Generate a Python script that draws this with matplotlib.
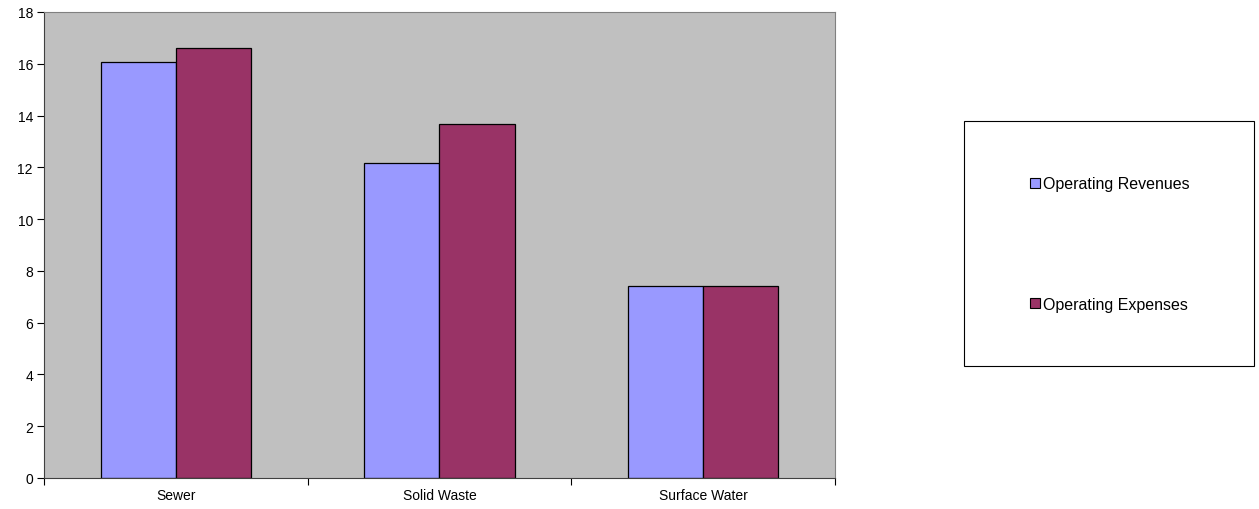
import numpy as np
import matplotlib.pyplot as plt
from matplotlib.patches import Patch, Rectangle

categories = ["Sewer", "Solid Waste", "Surface Water"]
revenues = [16.05, 12.17, 7.40]
expenses = [16.62, 13.66, 7.40]
series_names = ["Operating Revenues", "Operating Expenses"]

plt.rcParams['font.family'] = ['Liberation Sans', 'DejaVu Sans']

fig = plt.figure(figsize=(12.59, 5.10), dpi=100)
ax = fig.add_axes([44 / 1259, 31 / 510, 791 / 1259, 466 / 510])
ax.set_facecolor("#C0C0C0")

x = np.arange(len(categories))
w = 0.285
ax.bar(x - w / 2, revenues, w, color="#9999FF", edgecolor="black", linewidth=0.9)
ax.bar(x + w / 2, expenses, w, color="#993366", edgecolor="black", linewidth=0.9)

ax.set_xlim(-0.5, len(categories) - 0.5)
ax.set_ylim(0, 18)
ax.set_yticks(np.arange(0, 19, 2))
ax.tick_params(axis="y", direction="out", length=5, labelsize=10, pad=3)

# category boundary ticks, labels at centres
ax.set_xticks(np.arange(-0.5, len(categories), 1.0))
ax.set_xticklabels([])
ax.set_xticks(x, minor=True)
ax.set_xticklabels(categories, minor=True)
ax.tick_params(axis="x", which="major", direction="out", length=5)
ax.tick_params(axis="x", which="minor", length=0, labelsize=10, pad=7)

for side in ["top", "right"]:
    ax.spines[side].set_color("#808080")
for side in ["left", "bottom"]:
    ax.spines[side].set_color("#404040")

# legend box
fig.patches.append(Rectangle((964 / 1259, (510 - 367) / 510), 290 / 1259, 245 / 510,
                             transform=fig.transFigure, facecolor="white",
                             edgecolor="black", linewidth=0.8))
handles = [Patch(facecolor="#9999FF", edgecolor="black", linewidth=0.8),
           Patch(facecolor="#993366", edgecolor="black", linewidth=0.8)]
fig.legend(handles, series_names, loc="center", bbox_to_anchor=(1110 / 1259, (510 - 245) / 510),
           frameon=False, fontsize=11.5, handlelength=0.6, handleheight=0.6,
           handletextpad=0.2, labelspacing=6.6)

fig.savefig("out.png", dpi=100)
